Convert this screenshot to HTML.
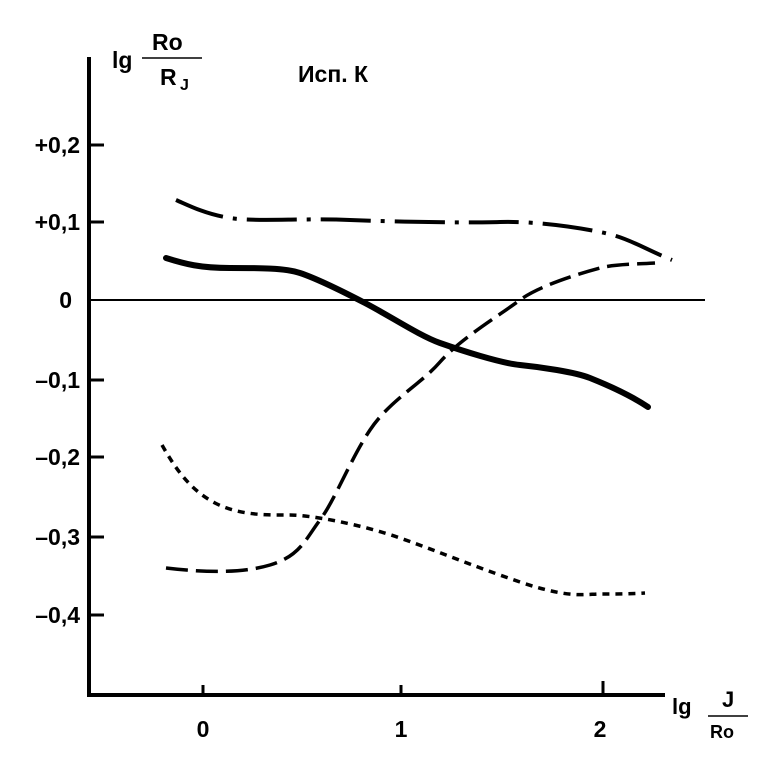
<!DOCTYPE html>
<html><head><meta charset="utf-8"><style>body{margin:0;background:#fff}svg{display:block}text{font-family:"Liberation Sans",sans-serif;font-weight:bold;fill:#000}</style></head>
<body>
<svg width="763" height="767" viewBox="0 0 763 767">
<g stroke="#000" fill="none">
<line x1="89" y1="57" x2="89" y2="697" stroke-width="4"/>
<line x1="87" y1="695" x2="665" y2="695" stroke-width="4"/>
<line x1="89" y1="300" x2="705" y2="300" stroke-width="2"/>
<g stroke-width="3">
<line x1="89" y1="145" x2="104" y2="145"/><line x1="89" y1="222" x2="104" y2="222"/>
<line x1="89" y1="380" x2="104" y2="380"/><line x1="89" y1="457" x2="104" y2="457"/>
<line x1="89" y1="537" x2="104" y2="537"/><line x1="89" y1="615" x2="104" y2="615"/>
<line x1="203" y1="695" x2="203" y2="685"/><line x1="401" y1="695" x2="401" y2="685"/><line x1="603" y1="695" x2="603" y2="681"/>
</g>
<path d="M176,200 C190,206 205,214 230,218 S300,218 350,220 S470,223 500,222 S570,226 600,232 S640,247 672,260" stroke-width="4" stroke-dasharray="50,10,4,10"/>
<path d="M166,258 C185,264 200,268 230,268 S285,268 300,273 S340,290 365,303 S420,336 440,343 S500,363 520,365 S575,372 590,378 S630,395 648,407" stroke-width="6" stroke-linecap="round"/>
<path d="M166,568 C200,572 240,574 270,565 S305,540 320,520 S350,460 370,430 S420,385 440,362 S500,315 520,300 S585,272 600,268 S640,264 655,263" stroke-width="3.5" stroke-dasharray="22,8"/>
<path d="M162,445 C175,468 190,490 215,503 S270,515 290,515 S360,524 400,538 S470,565 520,582 S585,594 600,594 S630,594 645,593" stroke-width="3.5" stroke-dasharray="7,6"/>
<line x1="142" y1="58" x2="202" y2="58" stroke-width="1.5"/>
<line x1="708" y1="716" x2="748" y2="716" stroke-width="1.5"/>
</g>
<text x="112" y="68" font-size="23">lg</text>
<text x="152" y="50" font-size="23">Ro</text>
<text x="160" y="85" font-size="23">R</text><text x="180" y="90" font-size="16">J</text>
<text x="298" y="82" font-size="23">Исп. К</text>
<g font-size="23" text-anchor="end">
<text x="80" y="153">+0,2</text><text x="80" y="230">+0,1</text><text x="72" y="308">0</text>
<text x="80" y="388">–0,1</text><text x="80" y="465">–0,2</text><text x="80" y="545">–0,3</text><text x="80" y="623">–0,4</text>
</g>
<g font-size="23" text-anchor="middle">
<text x="203" y="737">0</text><text x="401" y="737">1</text><text x="600" y="737">2</text>
</g>
<text x="672" y="714" font-size="22">lg</text>
<text x="722" y="707" font-size="22">J</text>
<text x="710" y="738" font-size="18">Ro</text>
</svg>
</body></html>
